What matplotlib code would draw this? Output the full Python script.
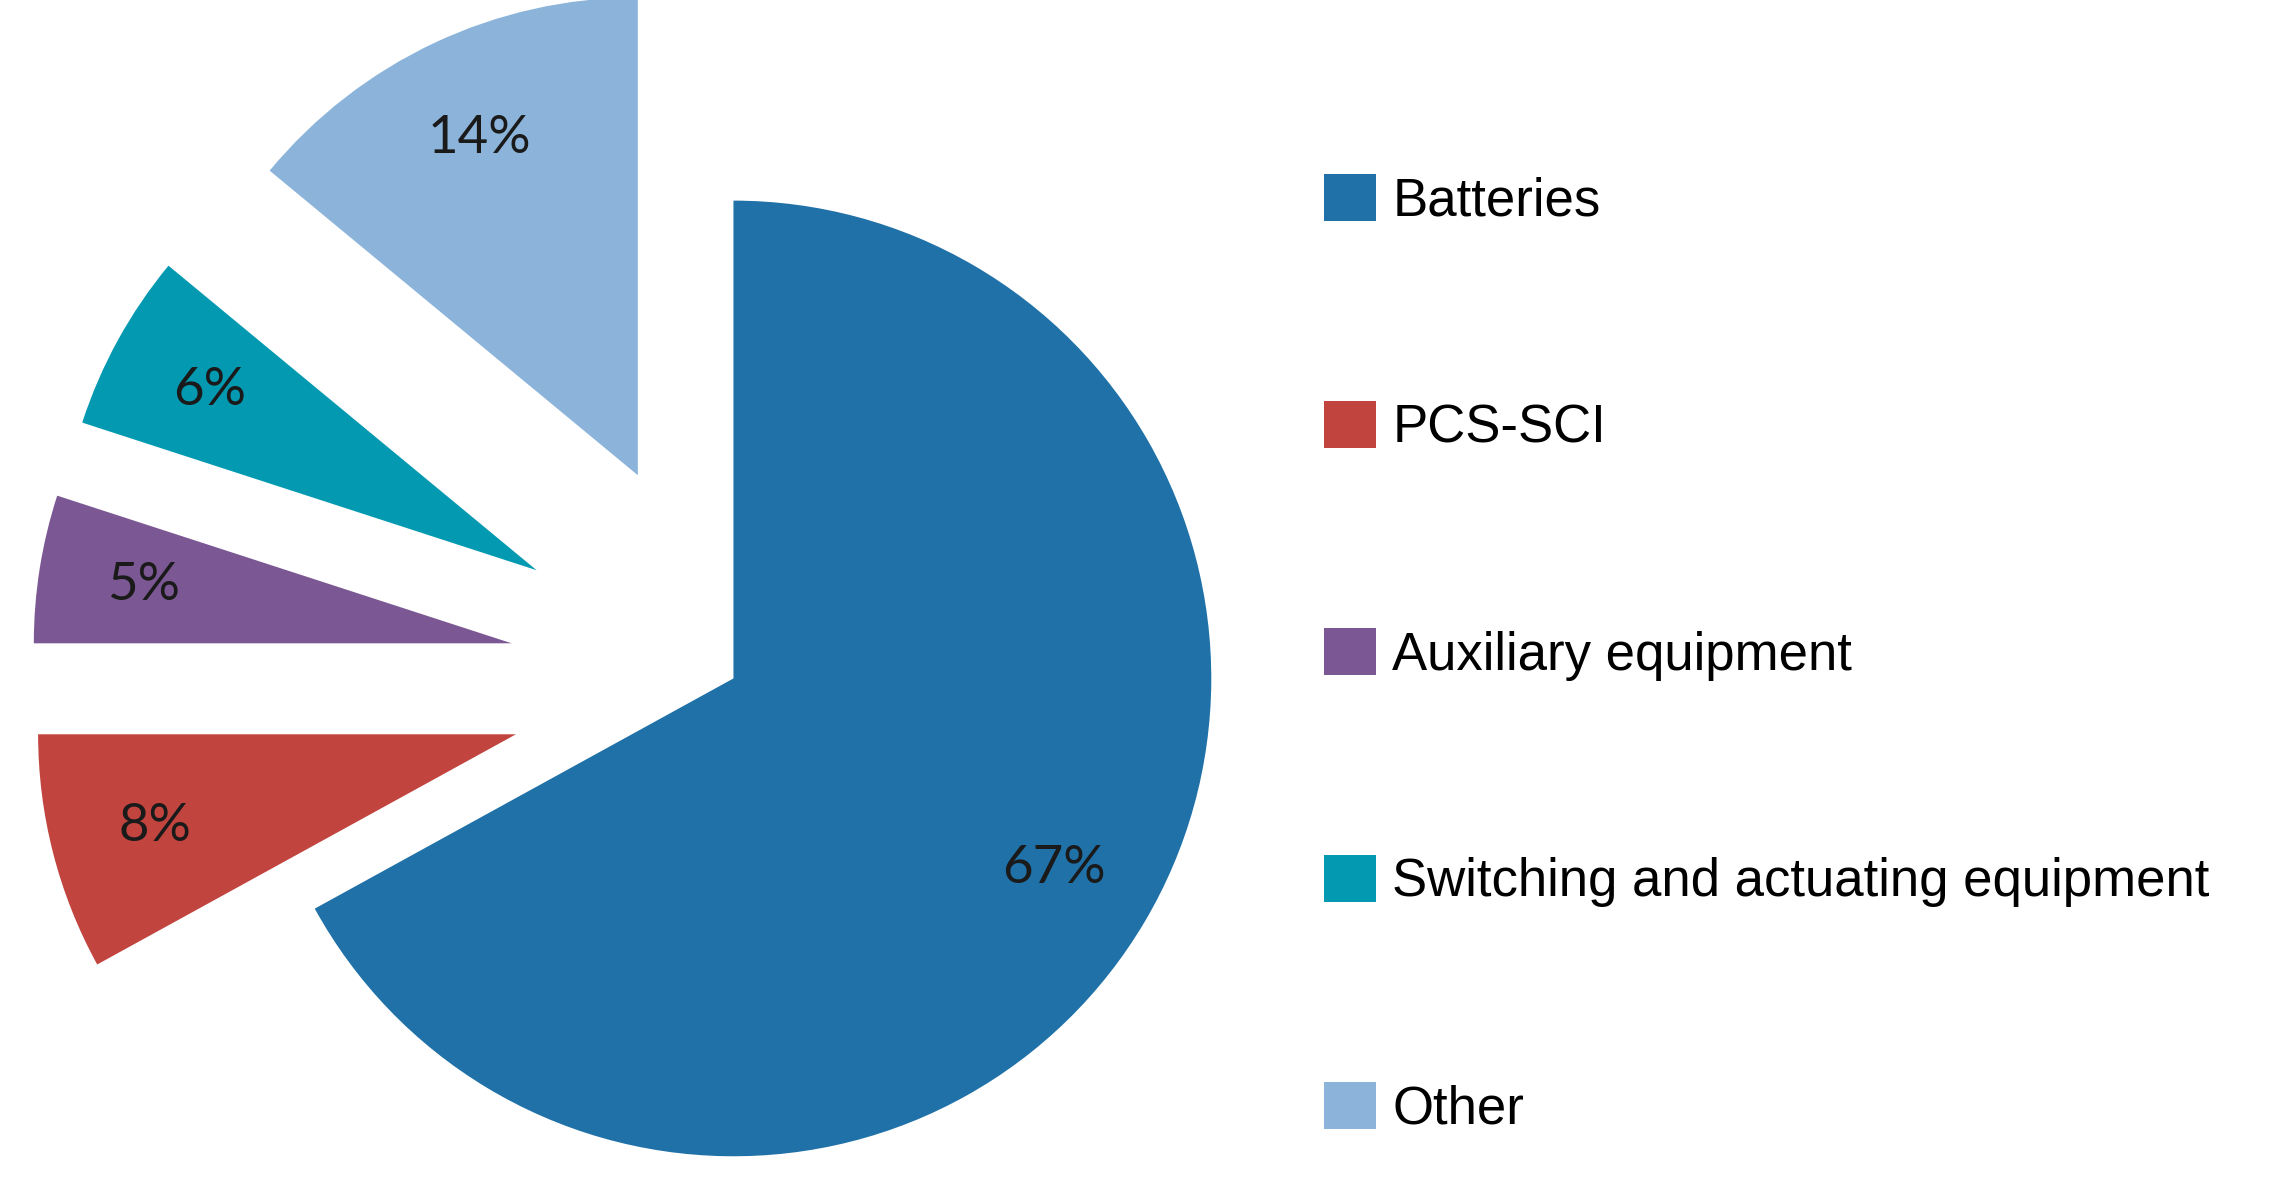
import matplotlib.pyplot as plt

categories = ["Batteries", "PCS-SCI", "Auxiliary equipment",
              "Switching and actuating equipment", "Other"]
shares = [67, 8, 5, 6, 14]
colors = ["#1f71a8", "#c1443f", "#7b5793", "#0399b1", "#8cb4da"]
explode = [0, 0.47, 0.47, 0.47, 0.47]

fig = plt.figure(figsize=(22.84, 11.82), dpi=100)
ax = fig.add_axes([0, 0, 1, 1])

wedges, texts, autotexts = ax.pie(
    shares, colors=colors, explode=explode, startangle=90, counterclock=False,
    autopct="%d%%", pctdistance=0.78,
    textprops=dict(fontsize=38, family="Lato", color="#1a1a1a"))

ax.set_aspect("equal")
ax.set_xlim(-1.535, 3.245)
ax.set_ylim(-1.052, 1.418)
ax.axis("off")

fig.legend(wedges, categories, loc="upper left", bbox_to_anchor=(0.568, 0.875),
           frameon=False, prop=dict(family="Liberation Sans", size=38),
           handlelength=1.0, handleheight=1.0, handletextpad=0.3,
           labelspacing=3.3, borderpad=0)

fig.savefig("out.png", dpi=100)
